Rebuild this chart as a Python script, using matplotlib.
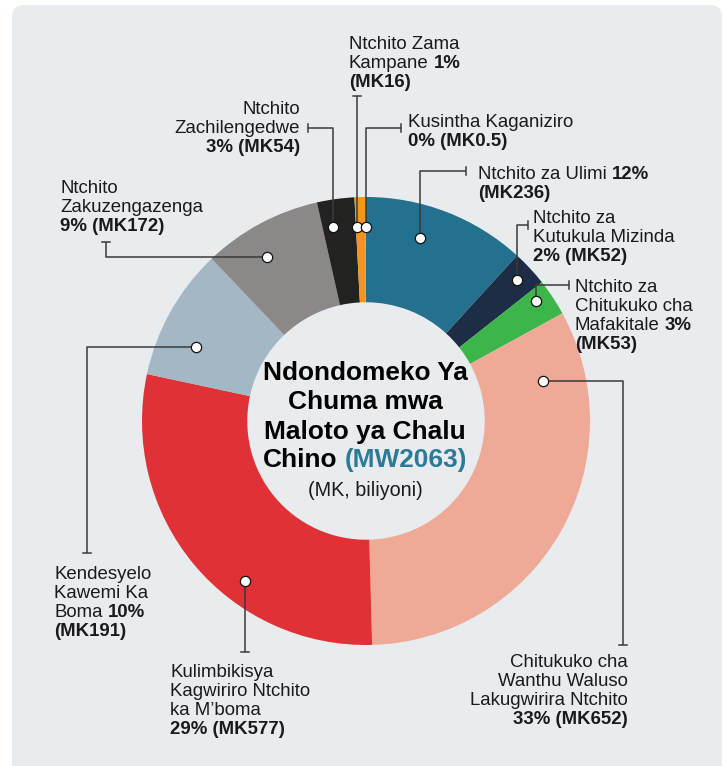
import numpy as np
import matplotlib
matplotlib.use("Agg")
import matplotlib.pyplot as plt
from matplotlib.patches import FancyBboxPatch

# ---------------- data ----------------
names = [
    "Ntchito za Ulimi",
    "Ntchito za\nKutukula Mizinda",
    "Ntchito za\nChitukuko cha\nMafakitale",
    "Chitukuko cha\nWanthu Waluso\nLakugwirira Ntchito",
    "Kulimbikisya\nKagwiriro Ntchito\nka M\u2019boma",
    "Kendesyelo\nKawemi Ka\nBoma",
    "Ntchito\nZakuzengazenga",
    "Ntchito\nZachilengedwe",
    "Ntchito Zama\nKampane",
    "Kusintha Kaganiziro",
]
values = [236, 52, 53, 652, 577, 191, 172, 54, 16, 0.5]
percents = [12, 2, 3, 33, 29, 10, 9, 3, 1, 0]
colors = ["#23718e", "#1d2d46", "#3cb64b", "#efaa97", "#e03236",
          "#a4b7c4", "#8c8887", "#222221", "#f7941d", "#f7941d"]
title_lines = ["Ndondomeko Ya", "Chuma mwa", "Maloto ya Chalu", "Chino"]
total_label = "(MW2063)"
unit_label = "(MK, biliyoni)"

# ---------------- layout ----------------
W, H = 728, 766
FONT = "Liberation Sans"
LSIZE = 13.4
USIZE = 14.2
TSIZE = 18.9
TXT = "#1a1a1a"
LINE = "#3a3a3a"
PANEL = "#e9ecef"
TEAL_T = "#2b7a96"

# pct placement: 'inline' -> pct on last name line, value next line; 'newline' -> both on new line
pct_mode = ["inline", "newline", "inline", "newline", "newline",
            "inline", "newline", "newline", "inline", "newline"]
# dot: (fraction along wedge clockwise, radius px)
dot_pos = [(0.39, 191), (0.49, 207), (0.32, 208), (0.137, 181), (0.373, 201),
           (0.335, 185), (0.40, 192), (0.31, 197), (0.10, 194), (0.5, 194)]
routes = [
    [("v", 171), ("h", 466)],
    [("v", 225), ("h", 528)],
    [("v", 285), ("h", 569)],
    [("h", 623), ("v", 645)],
    [("v", 652)],
    [("h", 87), ("v", 553)],
    [("h", 106), ("v", 242)],
    [("v", 128), ("h", 308)],
    [("v", 96)],
    [("v", 128), ("h", 401)],
]
# label (x, first baseline px, ha)
label_pos = [(478, 179, "left"), (533, 223, "left"), (575, 292, "left"),
             (628, 667, "right"), (170, 677, "left"), (54, 579, "left"),
             (60, 193, "left"), (300, 114, "right"), (349, 49, "left"),
             (408, 127, "left")]
LSTEP = 19

fig = plt.figure(figsize=(W / 100, H / 100), dpi=100)
fig.patch.set_facecolor("white")
ax = fig.add_axes([0, 0, 1, 1])


def Y(y):
    return H - y


panel = FancyBboxPatch((12, Y(790)), 710, 785,
                       boxstyle="round,pad=0,rounding_size=12",
                       fc=PANEL, ec="none", zorder=0)
ax.add_patch(panel)

cx, cy_px, R = 366, 421, 224
wedges, _ = ax.pie(values, colors=colors, startangle=90, counterclock=False,
                   radius=R, center=(cx, Y(cy_px)), frame=True,
                   wedgeprops=dict(width=R * 0.47, linewidth=0))
for w in wedges:
    w.set_zorder(1)

ax.set_xlim(0, W)
ax.set_ylim(0, H)
ax.set_aspect("auto")
ax.axis("off")

renderer = fig.canvas.get_renderer()


def text_width(s, bold, size):
    t = ax.text(0, 0, s, fontsize=size, fontfamily=FONT,
                fontweight="bold" if bold else "normal")
    bb = t.get_window_extent(renderer)
    t.remove()
    return bb.width


def draw_rich(x, ypx, parts, ha, size):
    widths = [text_width(s, b, size) for s, b, c in parts]
    sp = text_width("a a", False, size) - text_width("aa", False, size)
    total = sum(widths) + sp * (len(parts) - 1)
    if ha == "left":
        x0 = x
    elif ha == "right":
        x0 = x - total
    else:
        x0 = x - total / 2
    for (s, b, c), wd in zip(parts, widths):
        ax.text(x0, Y(ypx), s, ha="left", va="baseline", fontsize=size,
                fontfamily=FONT, fontweight="bold" if b else "normal",
                color=c, zorder=5)
        x0 += wd + sp


# leaders and labels
for i, w in enumerate(wedges):
    f, r = dot_pos[i]
    a = np.deg2rad(w.theta2 - f * (w.theta2 - w.theta1))
    dx = cx + r * np.cos(a)
    dy = cy_px - r * np.sin(a)
    pts = [(dx, dy)]
    for kind, v in routes[i]:
        if kind == "v":
            pts.append((pts[-1][0], v))
        else:
            pts.append((v, pts[-1][1]))
    ax.plot([p[0] for p in pts], [Y(p[1]) for p in pts], color=LINE,
            lw=1.1, solid_capstyle="butt", zorder=3)
    ex, ey = pts[-1]
    if routes[i][-1][0] == "v":
        ax.plot([ex - 4, ex + 4], [Y(ey), Y(ey)], color=LINE, lw=1.1, zorder=3)
    else:
        ax.plot([ex, ex], [Y(ey - 4), Y(ey + 4)], color=LINE, lw=1.1, zorder=3)
    ax.plot([dx], [Y(dy)], marker="o", ms=7.4, mfc="white", mec="#111111",
            mew=0.9, zorder=4)

    val = f"(MK{values[i]:g})"
    pct = f"{percents[i]}%"
    nlines = names[i].split("\n")
    lines = [[(t, False, TXT)] for t in nlines]
    if pct_mode[i] == "inline":
        lines[-1].append((pct, True, TXT))
        lines.append([(val, True, TXT)])
    else:
        lines.append([(pct + " " + val, True, TXT)])
    lx, lb, ha = label_pos[i]
    for k, parts in enumerate(lines):
        draw_rich(lx, lb + k * LSTEP, parts, ha, LSIZE)

# centre title
tb = [380, 409, 439, 467]
for k, t in enumerate(title_lines):
    parts = [(t, True, "black")]
    if k == len(title_lines) - 1:
        parts.append((total_label, True, TEAL_T))
    draw_rich(365, tb[k], parts, "center", TSIZE)
draw_rich(365, 496, [(unit_label, False, TXT)], "center", USIZE)

fig.savefig("out.png", dpi=100, facecolor="white")
